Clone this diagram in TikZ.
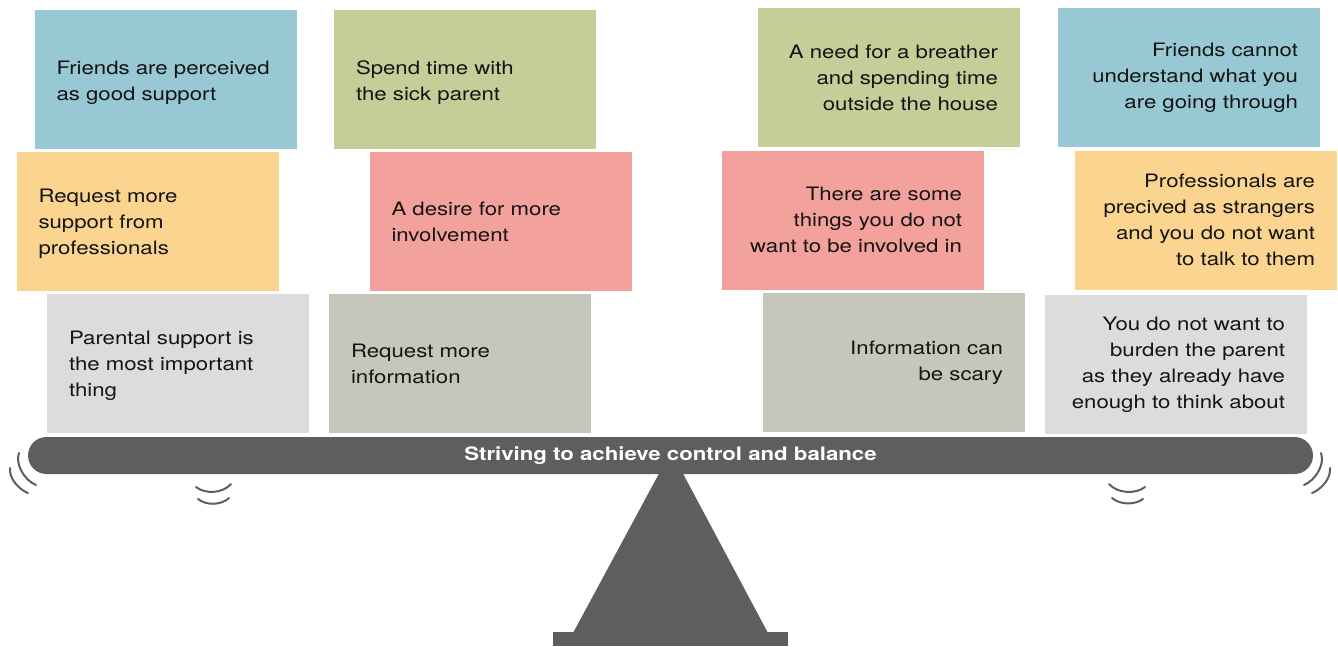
\documentclass[tikz,border=0pt]{standalone}
\usepackage{fontspec}
\setmainfont{TeX Gyre Heros}[FakeStretch=1.2]
\definecolor{cblue}{HTML}{98C8D4}
\definecolor{cgreen}{HTML}{C6CD98}
\definecolor{corange}{HTML}{FBD490}
\definecolor{cpink}{HTML}{F2A19D}
\definecolor{clgrey}{HTML}{DCDCDC}
\definecolor{cgg}{HTML}{C6C6BA}
\definecolor{cbeam}{HTML}{5E5E5E}
\definecolor{ctext}{HTML}{141414}
\newcommand{\lowertext}[2]{\raisebox{-#1}[\height][\depth]{\parbox{218pt}{\raggedright #2}}}
\begin{document}
\begin{tikzpicture}[x=1pt,y=-1pt,
  box/.style={minimum width=262pt, minimum height=139pt, inner sep=0pt, text width=218pt,
    font=\fontsize{18.5}{26}\selectfont, text=ctext},
  lbox/.style={box, align=left},
  rbox/.style={box, align=right},
  beamstyle/.style={fill=cbeam, minimum width=1285pt, minimum height=37pt, inner sep=0pt,
    rounded corners=18.5pt, text=white, font=\bfseries\fontsize{18.5}{22}\selectfont},
  wig/.style={draw=cbeam, line width=2pt, line cap=round}]
\useasboundingbox (0,0) rectangle (1338,646);

% fulcrum
\fill[cbeam] (662,468) -- (680,468) -- (768,633) -- (573,633) -- cycle;
\fill[cbeam] (553,632) rectangle (788,646);

% boxes
\node[lbox, fill=cblue] (b1) at (165.5,79) {\lowertext{3.5pt}{Friends are perceived\\as good support}};
\node[lbox, fill=cgreen] (b2) at (465,79) {\lowertext{3.5pt}{Spend time with\\the sick parent}};
\node[rbox, fill=cgreen] (b3) at (889,77.5) {A need for a breather\\and spending time\\outside the house};
\node[rbox, fill=cblue] (b4) at (1189,77.5) {Friends cannot\\understand what you\\are going through};

\node[lbox, fill=corange] (o1) at (147.5,221.5) {\lowertext{2pt}{Request more\\support from\\professionals}};
\node[lbox, fill=cpink] (p1) at (500.5,221.5) {A desire for more\\involvement};
\node[rbox, fill=cpink] (p2) at (853,220) {There are some\\things you do not\\want to be involved in};
\node[rbox, fill=corange] (o2) at (1206,220) {Professionals are\\precived as strangers\\and you do not want\\to talk to them};

\node[lbox, fill=clgrey] (g1) at (178,363.5) {\lowertext{2.5pt}{Parental support is\\the most important\\thing}};
\node[lbox, fill=cgg] (g2) at (460,363.5) {Request more\\information};
\node[rbox, fill=cgg] (g3) at (894,362.5) {Information can\\be scary};
\node[rbox, fill=clgrey] (g4) at (1176,364.5) {You do not want to\\burden the parent\\as they already have\\enough to think about};

% beam
\node[beamstyle] (beam) at (670.5,455.5) {Striving to achieve control and balance};

% wiggles
\draw[wig] (19,453) .. controls (15,464) and (24,480) .. (36,485);
\draw[wig] (10,468) .. controls (9,478) and (18,489) .. (28,493);
\draw[wig] (196,487) .. controls (205,494) and (222,494) .. (231,484);
\draw[wig] (198,499) .. controls (206,505.5) and (221,505.5) .. (229,498);
\draw[wig] (1109,484) .. controls (1118,494) and (1136,494) .. (1145,487);
\draw[wig] (1112,498) .. controls (1120,505) and (1135,505) .. (1143,499);
\draw[wig] (1321,453) .. controls (1325,464) and (1316,480) .. (1304,485);
\draw[wig] (1330,468) .. controls (1331,478) and (1322,489) .. (1312,493);
\end{tikzpicture}
\end{document}
